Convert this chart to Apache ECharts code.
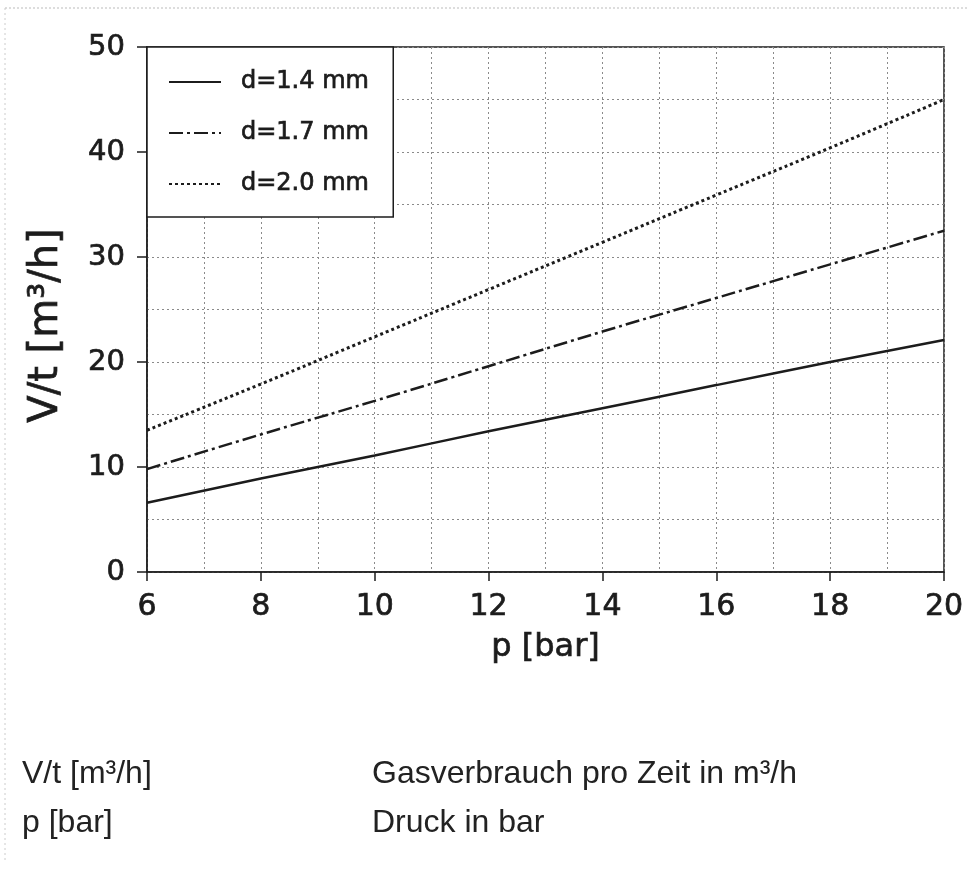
<!DOCTYPE html>
<html>
<head>
<meta charset="utf-8">
<script src="https://cdn.jsdelivr.net/npm/echarts@6/dist/echarts.min.js"></script>
<style>
  html, body { margin: 0; padding: 0; background: #fff; }
  #chart { width: 969px; height: 872px; }
</style>
</head>
<body>
<div id="chart"></div>
<script>
// Druck in bar
const presion = [6, 8, 10, 12, 14, 16, 18, 20];

// Gasverbrauch V/t [m3/h] por diametro
const d14 = [6.6, 8.9, 11.1, 13.4, 15.6, 17.8, 20.0, 22.1];
const d17 = [9.8, 13.1, 16.3, 19.6, 22.9, 26.1, 29.3, 32.5];
const d20 = [13.5, 17.9, 22.4, 26.9, 31.4, 35.9, 40.4, 45.0];

const nombres = ["d=1.4 mm", "d=1.7 mm", "d=2.0 mm"];

const negro = "#1c1c1c";
const gris = "#8a8a8a";
const fuente = "DejaVu Sans";

// texto algo mas grueso, como el escaneo
const texto = (size, extra) =>
  Object.assign(
    { fontFamily: fuente, fontSize: size, color: negro, textBorderColor: negro, textBorderWidth: 0.7 },
    extra || {}
  );

const pares = (ys) => presion.map((p, i) => [p, ys[i]]);

const lineaGrid = { show: true, lineStyle: { color: gris, width: 1, type: [2, 3] } };

const chart = echarts.init(document.getElementById("chart"));

chart.setOption({
  backgroundColor: "#fff",
  animation: false,
  grid: {
    left: 147,
    top: 47,
    right: 25,
    bottom: 300,
    show: true,
    borderColor: negro,
    borderWidth: 1.5,
  },
  legend: {
    data: nombres,
    orient: "vertical",
    left: 147,
    top: 47,
    backgroundColor: "#fff",
    borderColor: negro,
    borderWidth: 1.5,
    borderRadius: 0,
    padding: [22, 24, 20, 21],
    itemWidth: 52,
    itemHeight: 14,
    itemGap: 25,
    itemStyle: { opacity: 0 },
    textStyle: texto(24, { lineHeight: 26, padding: [0, 0, 0, 15] }),
  },
  xAxis: {
    type: "value",
    min: 6,
    max: 20,
    interval: 2,
    name: "p [bar]",
    nameLocation: "middle",
    nameGap: 60,
    nameTextStyle: texto(32),
    axisLine: { show: true, lineStyle: { color: negro, width: 1.5 } },
    axisTick: { show: true, length: 9, lineStyle: { color: negro, width: 1.5 } },
    axisLabel: texto(30, { margin: 20 }),
    splitLine: lineaGrid,
    minorTick: { show: false, splitNumber: 2 },
    minorSplitLine: lineaGrid,
  },
  yAxis: {
    type: "value",
    min: 0,
    max: 50,
    interval: 10,
    name: "V/t [m³/h]",
    nameLocation: "middle",
    nameGap: 80,
    nameTextStyle: texto(40, { padding: [0, 32, 0, 0] }),
    axisLine: { show: true, lineStyle: { color: negro, width: 1.5 } },
    axisTick: { show: true, length: 10, lineStyle: { color: negro, width: 1.5 } },
    axisLabel: texto(29, { margin: 22 }),
    splitLine: lineaGrid,
    minorTick: { show: false, splitNumber: 2 },
    minorSplitLine: lineaGrid,
  },
  series: [
    {
      name: nombres[0],
      type: "line",
      data: pares(d14),
      symbol: "none",
      smooth: true,
      color: negro,
      lineStyle: { color: negro, width: 2.5, type: "solid" },
    },
    {
      name: nombres[1],
      type: "line",
      data: pares(d17),
      symbol: "none",
      smooth: true,
      color: negro,
      lineStyle: { color: negro, width: 2.5, type: [14, 4, 3, 4] },
    },
    {
      name: nombres[2],
      type: "line",
      data: pares(d20),
      symbol: "none",
      smooth: true,
      color: negro,
      lineStyle: { color: negro, width: 3, type: [3, 3] },
    },
  ],
  graphic: [
    // borde punteado del escaneo
    { type: "line", shape: { x1: 5, y1: 8, x2: 969, y2: 8 }, style: { stroke: "#bbb", lineWidth: 1, lineDash: [2, 2] } },
    { type: "line", shape: { x1: 5, y1: 8, x2: 5, y2: 862 }, style: { stroke: "#ccc", lineWidth: 1, lineDash: [2, 3] } },
    // leyenda de variables
    { type: "text", left: 22, top: 758, style: { text: "V/t [m³/h]", fontFamily: "Liberation Sans", fontSize: 32, fill: "#222" } },
    { type: "text", left: 372, top: 758, style: { text: "Gasverbrauch pro Zeit in m³/h", fontFamily: "Liberation Sans", fontSize: 32, fill: "#222" } },
    { type: "text", left: 22, top: 807, style: { text: "p [bar]", fontFamily: "Liberation Sans", fontSize: 32, fill: "#222" } },
    { type: "text", left: 372, top: 807, style: { text: "Druck in bar", fontFamily: "Liberation Sans", fontSize: 32, fill: "#222" } },
  ],
});
</script>
</body>
</html>
